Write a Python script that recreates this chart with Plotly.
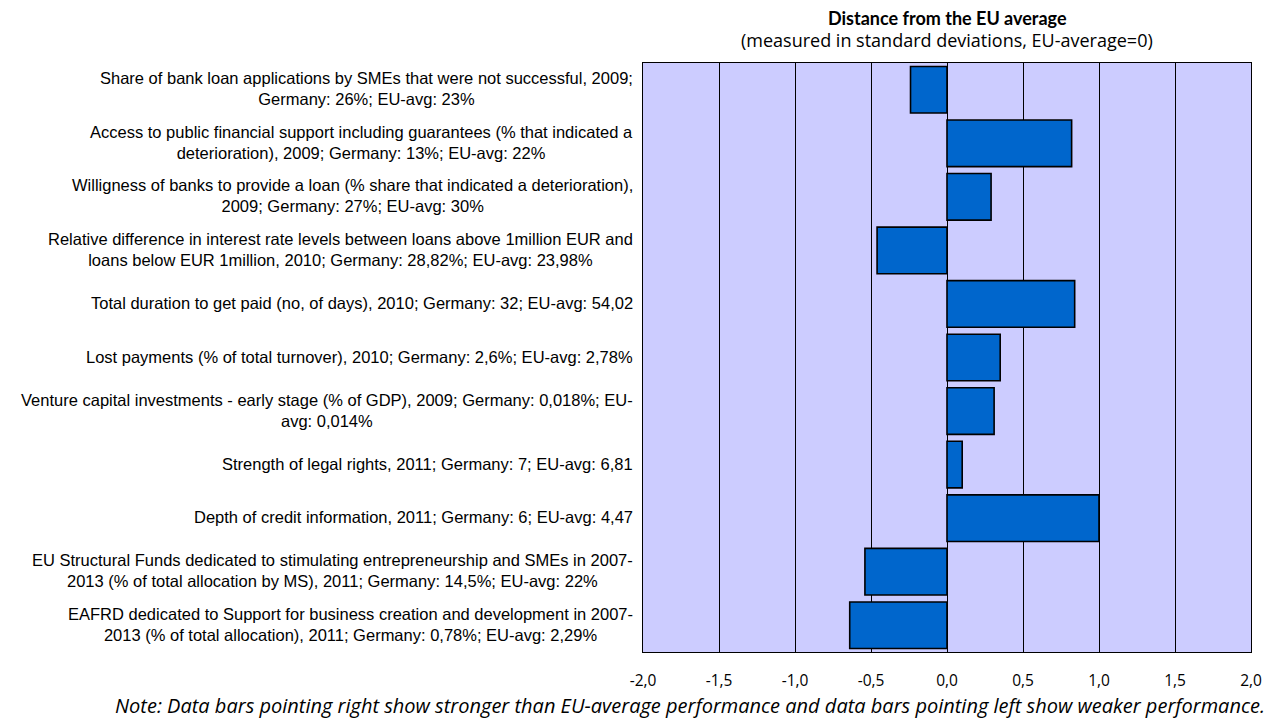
import plotly.graph_objects as go

# Indicator labels (top to bottom) and their distance from the EU average
indicators = [
    "Share of bank loan applications by SMEs that were not successful, 2009;<br>Germany: 26%; EU-avg: 23%",
    "Access to public financial support including guarantees (% that indicated a<br>deterioration), 2009; Germany: 13%; EU-avg: 22%",
    "Willigness of banks to provide a loan (% share that indicated a deterioration),<br>2009; Germany: 27%; EU-avg: 30%",
    "Relative difference in interest rate levels between loans above 1million EUR and<br>loans below EUR 1million, 2010; Germany: 28,82%; EU-avg: 23,98%",
    "Total duration to get paid (no, of days), 2010; Germany: 32; EU-avg: 54,02",
    "Lost payments (% of total turnover), 2010; Germany: 2,6%; EU-avg: 2,78%",
    "Venture capital investments - early stage (% of GDP), 2009; Germany: 0,018%; EU-<br>avg: 0,014%",
    "Strength of legal rights, 2011; Germany: 7; EU-avg: 6,81",
    "Depth of credit information, 2011; Germany: 6; EU-avg: 4,47",
    "EU Structural Funds dedicated to stimulating entrepreneurship and SMEs in 2007-<br>2013 (% of total allocation by MS), 2011; Germany: 14,5%; EU-avg: 22%",
    "EAFRD dedicated to Support for business creation and development in 2007-<br>2013 (% of total allocation), 2011; Germany: 0,78%; EU-avg: 2,29%",
]
distance_sd = [-0.24, 0.82, 0.29, -0.46, 0.84, 0.35, 0.31, 0.10, 1.00, -0.54, -0.64]
x_tick_values = [-2.0, -1.5, -1.0, -0.5, 0.0, 0.5, 1.0, 1.5, 2.0]
x_tick_labels = ["-2,0", "-1,5", "-1,0", "-0,5", "0,0", "0,5", "1,0", "1,5", "2,0"]

categories = list(range(len(indicators)))

label_font = "Liberation Sans, Arial, sans-serif"
title_font = "Lato, sans-serif"
body_font = "Open Sans, sans-serif"

fig = go.Figure()
fig.add_trace(go.Bar(
    x=distance_sd,
    y=categories,
    orientation="h",
    marker=dict(color="#0066CC", line=dict(color="#000000", width=1.6)),
    width=0.87,
    hoverinfo="x",
))

# Category labels: block right-aligned next to the plot, lines centred within it
for cat, text in zip(categories, indicators):
    fig.add_annotation(
        x=0, xref="paper", xanchor="right", xshift=-8,
        y=cat, yref="y", yanchor="middle", yshift=1,
        text=text, align="center", showarrow=False,
        font=dict(family=label_font, size=16.5, color="#000000"),
    )

fig.add_annotation(
    x=0.5, xref="paper", y=1, yref="paper", yshift=45, yanchor="middle",
    text="<b>Distance from the EU average</b>", showarrow=False,
    font=dict(family=title_font, size=18, color="#000000"),
)
fig.add_annotation(
    x=0.5, xref="paper", y=1, yref="paper", yshift=23, yanchor="middle",
    text="(measured in standard deviations, EU-average=0)", showarrow=False,
    font=dict(family=body_font, size=18, color="#000000"),
)
fig.add_annotation(
    x=1, xref="paper", xanchor="right", xshift=16,
    y=0, yref="paper", yshift=-53, yanchor="middle",
    text="<i>Note: Data bars pointing right show stronger than EU-average performance and data bars pointing left show weaker performance.</i>",
    showarrow=False,
    font=dict(family=body_font, size=20, color="#000000"),
)

fig.update_layout(
    width=1274, height=726,
    margin=dict(l=643, r=23, t=63, b=74),
    paper_bgcolor="#FFFFFF",
    plot_bgcolor="#CCCCFF",
    showlegend=False,
    bargap=0.13,
)
fig.update_xaxes(
    range=[-2.0, 2.0],
    tickvals=x_tick_values, ticktext=x_tick_labels,
    showgrid=True, gridcolor="#000000", gridwidth=1,
    zeroline=False,
    showline=True, linecolor="#000000", linewidth=1, mirror=True,
    ticks="", ticklabelstandoff=14,
    tickfont=dict(family=body_font, size=15.5, color="#000000"),
)
fig.update_yaxes(
    range=[len(indicators) - 0.5, -0.5],
    showticklabels=False, showgrid=False, zeroline=False,
    showline=True, linecolor="#000000", linewidth=1, mirror=True,
    ticks="",
)

fig.write_html("out.html")
